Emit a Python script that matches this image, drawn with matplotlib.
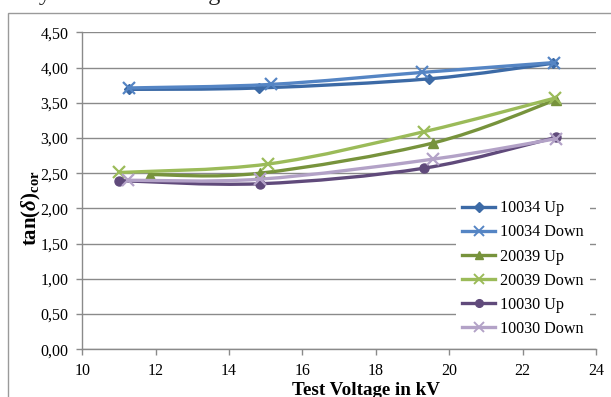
import numpy as np
import matplotlib
matplotlib.use("Agg")
import matplotlib.pyplot as plt
from matplotlib.path import Path
from matplotlib.patches import PathPatch, Rectangle
from matplotlib.lines import Line2D
from matplotlib.ticker import FuncFormatter, MultipleLocator

plt.rcParams['font.family'] = ['Liberation Serif', 'DejaVu Serif']
plt.rcParams['mathtext.fontset'] = 'custom'
plt.rcParams['mathtext.rm'] = 'Liberation Serif:bold'
plt.rcParams['mathtext.bf'] = 'Liberation Serif:bold'
plt.rcParams['mathtext.it'] = 'Liberation Serif:italic:bold'

# ---- data ----
series_names = ["10034 Up", "10034 Down", "20039 Up", "20039 Down", "10030 Up", "10030 Down"]
x_10034_up = [11.26, 14.82, 19.46, 22.82]
y_10034_up = [3.69, 3.71, 3.84, 4.06]
x_10034_down = [11.28, 15.13, 19.25, 22.85]
y_10034_down = [3.71, 3.76, 3.93, 4.07]
x_20039_up = [11.85, 14.84, 19.57, 22.90]
y_20039_up = [2.48, 2.50, 2.93, 3.54]
x_20039_down = [11.01, 15.06, 19.32, 22.87]
y_20039_down = [2.51, 2.63, 3.09, 3.565]
x_10030_up = [11.00, 14.84, 19.30, 22.92]
y_10030_up = [2.395, 2.35, 2.57, 3.01]
x_10030_down = [11.24, 14.84, 19.57, 22.92]
y_10030_down = [2.40, 2.415, 2.70, 2.99]

xs = [x_10034_up, x_10034_down, x_20039_up, x_20039_down, x_10030_up, x_10030_down]
ys = [y_10034_up, y_10034_down, y_20039_up, y_20039_down, y_10030_up, y_10030_down]

colors = ['#3C6AA6', '#5585C4', '#77933C', '#9BBB59', '#604A7B', '#B3A2C7']
markers = ['D', 'x', '^', 'x', 'o', 'x']
msizes = [5.5, 9, 7, 9, 6.5, 9]

W, H = 611, 397
fig = plt.figure(figsize=(W / 100, H / 100), dpi=100)

def fx(px):
    return px / W

def fy(py):
    return 1 - py / H

# outer chart border
fig.patches.append(Rectangle((fx(8), -0.2), 2, fy(13) + 0.2, transform=fig.transFigure,
                             fill=False, edgecolor='#9a9a9a', linewidth=1.0))

# partially visible document text at top (cut off in the reference as well)
fig.text(fx(8), fy(0.3), "only of the test voltage.", fontsize=17.5, ha='left', va='baseline',
         color='#222222')

ax = fig.add_axes([fx(82.3), fy(349.3), fx(596) - fx(82.3), fy(32.3) - fy(349.3)])
ax.set_xlim(10, 24)
ax.set_ylim(0, 4.5)
ax.xaxis.set_major_locator(MultipleLocator(2))
ax.yaxis.set_major_locator(MultipleLocator(0.5))
ax.yaxis.set_major_formatter(FuncFormatter(lambda v, p: f"{v:.2f}".replace('.', ',')))
ax.grid(axis='y', color='#8a8a8a', linewidth=1.0)
ax.set_axisbelow(True)
for s in ['top', 'right']:
    ax.spines[s].set_visible(False)
for s in ['left', 'bottom']:
    ax.spines[s].set_color('#8a8a8a')
    ax.spines[s].set_linewidth(1.0)
ax.tick_params(axis='both', direction='out', length=4, width=1, color='#8a8a8a',
               labelsize=11.5, labelcolor='black')
ax.tick_params(axis='y', pad=6)
ax.tick_params(axis='x', pad=6)


def smooth_path(x, y):
    pts = np.column_stack([x, y])
    n = len(pts)
    verts = [pts[0]]
    codes = [Path.MOVETO]
    for i in range(n - 1):
        p0 = pts[i - 1] if i > 0 else pts[i]
        p1 = pts[i]
        p2 = pts[i + 1]
        p3 = pts[i + 2] if i + 2 < n else pts[i + 1]
        c1 = p1 + (p2 - p0) / 6.0
        c2 = p2 - (p3 - p1) / 6.0
        verts += [c1, c2, p2]
        codes += [Path.CURVE4] * 3
    return Path(verts, codes)


handles = []
for i in range(len(series_names)):
    patch = PathPatch(smooth_path(xs[i], ys[i]), facecolor='none', edgecolor=colors[i],
                      linewidth=2.4, capstyle='round', joinstyle='round', zorder=3 + i)
    ax.add_patch(patch)
    ax.plot(xs[i], ys[i], linestyle='none', marker=markers[i], markersize=msizes[i],
            color=colors[i], markeredgewidth=1.6 if markers[i] == 'x' else 1.0,
            zorder=3 + i, clip_on=False)
    handles.append(Line2D([], [], color=colors[i], linewidth=2.4, marker=markers[i],
                          markersize=msizes[i] * 0.85,
                          markeredgewidth=1.4 if markers[i] == 'x' else 1.0))

leg = ax.legend(handles, series_names, loc='upper left',
                bbox_to_anchor=(fx(456), fy(194)), bbox_transform=fig.transFigure,
                frameon=True, fancybox=False, framealpha=1, edgecolor='none',
                fontsize=11.6, labelspacing=0.5, handlelength=2.0, handletextpad=0.3,
                borderpad=0.4, borderaxespad=0)
leg.set_zorder(20)

fig.text(fx(31), fy(208), r'$\mathbf{tan(}\delta\mathbf{)}_{\mathbf{cor}}$', rotation=90,
         ha='center', va='center', fontsize=15)
fig.text(fx(366), fy(395), "Test Voltage in kV", fontsize=13.7, fontweight='bold',
         ha='center', va='baseline')

fig.savefig("out.png", dpi=100)
